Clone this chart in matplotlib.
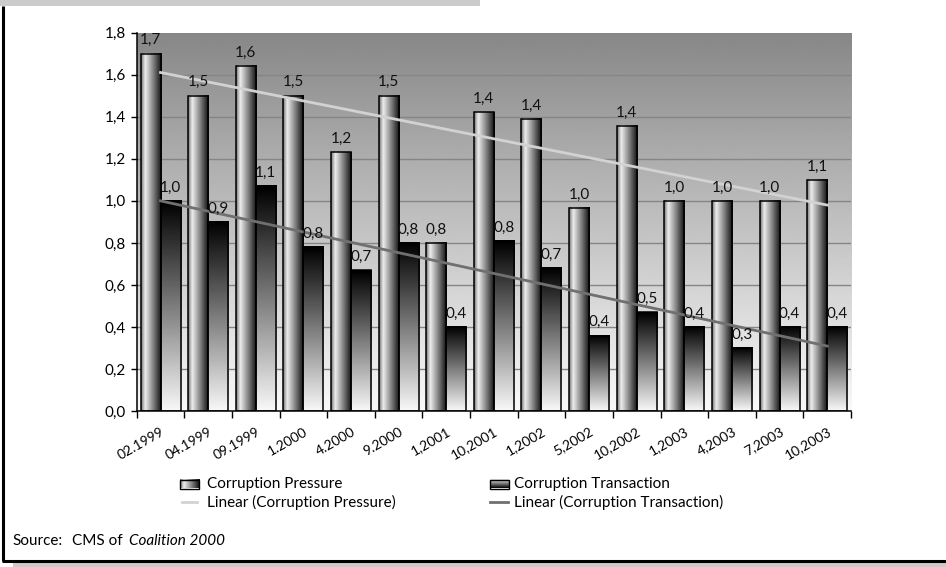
import numpy as np
import matplotlib.pyplot as plt
from matplotlib.patches import Rectangle

# --- Données ---
periodes = ['02.1999', '04.1999', '09.1999', '1.2000', '4.2000', '9.2000', '1,2001',
            '10,2001', '1,2002', '5,2002', '10,2002', '1,2003', '4,2003', '7,2003', '10,2003']
pression = [1.70, 1.50, 1.64, 1.50, 1.23, 1.50, 0.80, 1.42, 1.39, 0.965, 1.355, 1.00, 1.00, 1.00, 1.10]
transaction = [1.00, 0.90, 1.07, 0.78, 0.67, 0.80, 0.40, 0.81, 0.68, 0.36, 0.47, 0.40, 0.30, 0.40, 0.40]
# extrémités des droites de tendance (début, fin)
tendance_pression = [1.61, 0.98]
tendance_transaction = [1.00, 0.31]

legende = ['Corruption Pressure', 'Corruption Transaction',
           'Linear (Corruption Pressure)', 'Linear (Corruption Transaction)']

plt.rcParams['font.family'] = ['Lato', 'DejaVu Sans']

W, H = 946, 567
fig = plt.figure(figsize=(W / 100, H / 100), dpi=100)

# --- Cadre de la figure (coordonnées en pixels) ---
cadre = fig.add_axes([0, 0, 1, 1], zorder=0)
cadre.set_xlim(0, W)
cadre.set_ylim(H, 0)
cadre.axis('off')
cadre.add_patch(Rectangle((0, 0), 480, 6, color='#cbcbcb', lw=0))
cadre.add_patch(Rectangle((13, 563), W - 13, 5, color='#cbcbcb', lw=0))
cadre.plot([3, 3], [6, 561], color='black', lw=2.2, solid_capstyle='butt')
cadre.plot([2, W], [561, 561], color='black', lw=2.2, solid_capstyle='butt')

# --- Zone de tracé ---
ax = fig.add_axes([136.7 / W, 1 - 411.3 / H, (851 - 136.7) / W, (411.3 - 32.5) / H], zorder=1)
x = np.arange(len(periodes))
w = 0.42

# fond en dégradé
fond = np.linspace(0.53, 0.975, 256).reshape(-1, 1)
ax.imshow(fond, extent=[-0.5, 14.5, 0, 1.8], origin='upper', cmap='gray',
          vmin=0, vmax=1, aspect='auto', zorder=0, interpolation='bilinear')
for yg in np.arange(0.2, 1.81, 0.2):
    ax.axhline(yg, color='#858585', lw=1, zorder=1)

# dégradés des barres
pos = np.linspace(0, 1, 64)
grad_h = np.interp(pos, [0, 0.2, 0.55, 1.0], [0.45, 0.93, 0.55, 0.05]).reshape(1, -1)
grad_v = np.linspace(0.0, 0.97, 128).reshape(-1, 1)

for i in range(len(periodes)):
    x0 = x[i] - w
    ax.imshow(grad_h, extent=[x0, x0 + w, 0, pression[i]], cmap='gray', vmin=0, vmax=1,
              aspect='auto', zorder=2, interpolation='bilinear')
    x1 = x[i]
    ax.imshow(grad_v, extent=[x1, x1 + w, 0, transaction[i]], origin='upper', cmap='gray',
              vmin=0, vmax=1, aspect='auto', zorder=2, interpolation='bilinear')

ax.bar(x - w / 2, pression, w, fill=False, edgecolor='black', lw=1.1, zorder=3)
ax.bar(x + w / 2, transaction, w, fill=False, edgecolor='black', lw=1.1, zorder=3)

# droites de tendance
ax.plot([x[0], x[-1]], tendance_pression, color='#d2d2d2', lw=2, zorder=4)
ax.plot([x[0], x[-1]], tendance_transaction, color='#707070', lw=2, zorder=4)

# étiquettes des valeurs
def virgule(v):
    return f'{v:.1f}'.replace('.', ',')

for i in range(len(periodes)):
    ax.text(x[i] - w / 2, pression[i] + 0.03, virgule(pression[i]), ha='center', va='bottom',
            fontsize=11, color='#111111', zorder=5)
    ax.text(x[i] + w / 2, transaction[i] + 0.03, virgule(transaction[i]), ha='center', va='bottom',
            fontsize=11, color='#111111', zorder=5)

ax.set_xlim(-0.5, 14.5)
ax.set_ylim(0, 1.8)
yt = np.round(np.arange(0, 1.81, 0.2), 1)
ax.set_yticks(yt)
ax.set_yticklabels([virgule(v) for v in yt], fontsize=11)
ax.set_xticks(x)
ax.set_xticklabels(periodes, rotation=30, ha='right', va='top', rotation_mode='anchor', fontsize=10)
ax.set_xticks(np.arange(-0.5, 14.6, 1), minor=True)
ax.tick_params(axis='x', which='major', length=0, pad=10)
ax.tick_params(axis='x', which='minor', length=5, direction='out', width=1)
ax.tick_params(axis='y', length=4, direction='out', width=1, pad=4)
for s in ['top', 'right']:
    ax.spines[s].set_visible(False)
for s in ['left', 'bottom']:
    ax.spines[s].set_linewidth(1.1)

# --- Légende (dessinée à la main) ---
def patch_legende(px, py, grad, origin):
    cadre.imshow(grad, extent=[px, px + 19, py + 4.5, py - 4.5], origin=origin, cmap='gray',
                 vmin=0, vmax=1, aspect='auto', zorder=2, interpolation='bilinear')
    cadre.add_patch(Rectangle((px, py - 4.5), 19, 9, fill=False, ec='black', lw=1, zorder=3))

ligne1, ligne2 = 484, 502
patch_legende(180, ligne1, grad_h, 'upper')
patch_legende(490, ligne1, grad_v, 'lower')
cadre.plot([182, 197], [ligne2, ligne2], color='#d2d2d2', lw=2)
cadre.plot([490, 508], [ligne2, ligne2], color='#707070', lw=2)
cadre.text(207, ligne1, legende[0], va='center', fontsize=11)
cadre.text(514, ligne1, legende[1], va='center', fontsize=11)
cadre.text(207, ligne2, legende[2], va='center', fontsize=11)
cadre.text(514, ligne2, legende[3], va='center', fontsize=11)
cadre.set_xlim(0, W)
cadre.set_ylim(H, 0)

# --- Source ---
cadre.text(12, 541, 'Source:', va='center', fontsize=11)
cadre.text(72, 541, 'CMS of', va='center', fontsize=11)
cadre.text(129, 541, 'Coalition 2000', va='center', fontsize=11, style='italic')

fig.savefig('out.png', dpi=100)
